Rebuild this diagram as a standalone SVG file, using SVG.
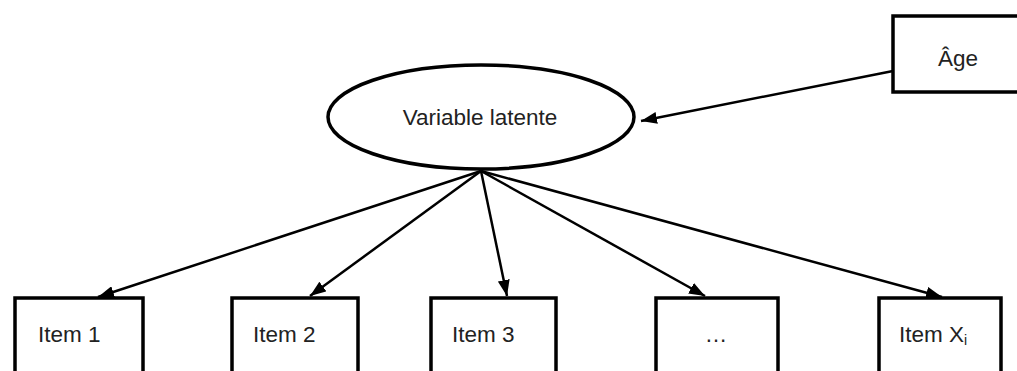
<svg xmlns="http://www.w3.org/2000/svg" width="1017" height="371" viewBox="0 0 1017 371">
<defs>
<marker id="ah" viewBox="0 0 16 12" refX="16" refY="6" markerWidth="16" markerHeight="12" markerUnits="userSpaceOnUse" orient="auto">
<path d="M0,0 L16,6 L0,12 z" fill="#000"/>
</marker>
<style>
.box{fill:#fff;stroke:#000;stroke-width:3.5}
.lbl{font-family:"Liberation Sans",Arial,sans-serif;font-size:22.5px;fill:#222}
.mid{text-anchor:middle}
.con{stroke:#000;stroke-width:2.5;fill:none;marker-end:url(#ah)}
</style>
</defs>
<rect width="1017" height="371" fill="#fff"/>
<g id="connectors">
<line class="con" x1="481" y1="171" x2="98" y2="297"/>
<line class="con" x1="481" y1="171" x2="310" y2="296"/>
<line class="con" x1="481" y1="171" x2="507" y2="296"/>
<line class="con" x1="481" y1="171" x2="705" y2="296"/>
<line class="con" x1="481" y1="171" x2="942" y2="297"/>
<line class="con" x1="893" y1="71" x2="641" y2="121"/>
</g>
<g id="age">
<rect class="box" x="893" y="16" width="128" height="76"/>
<text class="lbl mid" x="958" y="66" font-size="24">Âge</text>
</g>
<g id="latent">
<ellipse class="box" cx="481" cy="117" rx="153" ry="52"/>
<text class="lbl mid" x="480" y="125" font-size="23.5">Variable latente</text>
</g>
<g id="item1">
<rect class="box" x="15" y="298" width="128" height="80"/>
<text class="lbl" x="38" y="342">Item 1</text>
</g>
<g id="item2">
<rect class="box" x="232" y="298" width="126" height="80"/>
<text class="lbl" x="253" y="342">Item 2</text>
</g>
<g id="item3">
<rect class="box" x="431" y="298" width="125" height="80"/>
<text class="lbl" x="452" y="342">Item 3</text>
</g>
<g id="itemdots">
<rect class="box" x="656" y="298" width="122" height="80"/>
<text class="lbl mid" x="716" y="342">…</text>
</g>
<g id="itemXi">
<rect class="box" x="879" y="298" width="122" height="80"/>
<text class="lbl" x="899" y="342">Item X<tspan font-size="14" dy="3">i</tspan></text>
</g>
</svg>
